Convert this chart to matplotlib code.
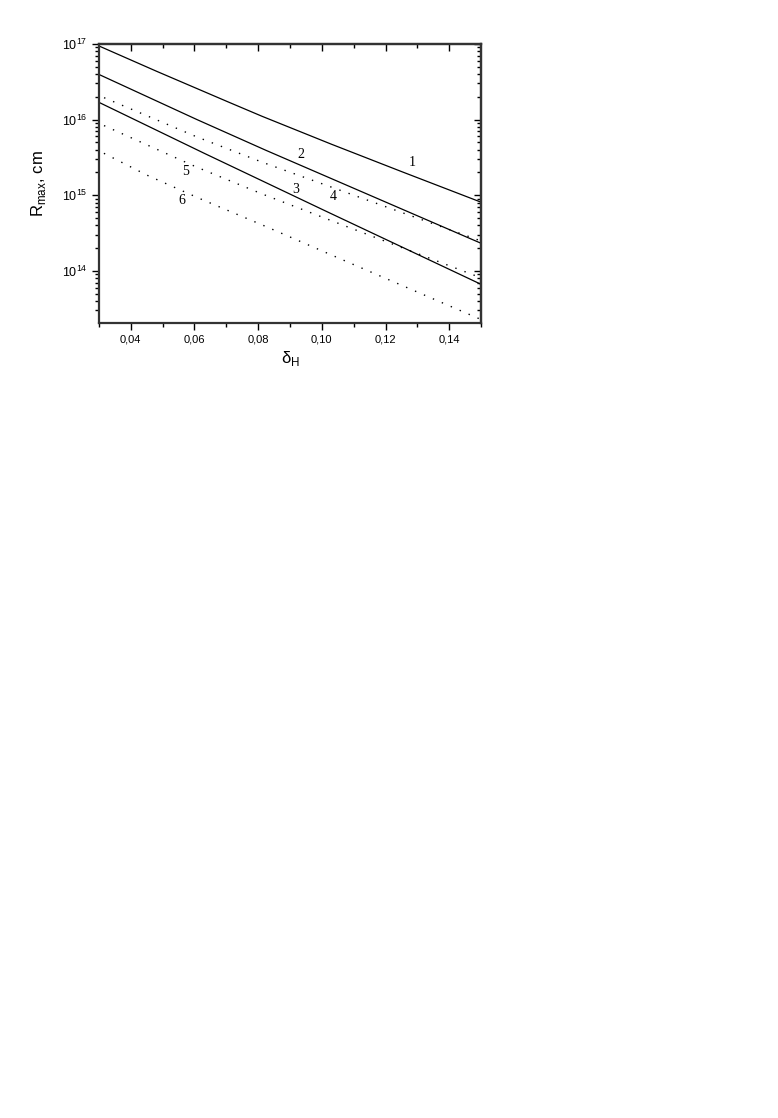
import numpy as np
import matplotlib
matplotlib.use("Agg")
import matplotlib.pyplot as plt
from matplotlib.ticker import FixedLocator, LogLocator, NullFormatter, FuncFormatter

delta = [0.03, 0.045, 0.06, 0.08, 0.10, 0.12, 0.15]

# R_max, cm  (solid: 1-3, dotted: 4-6)
r1 = [9.4e16, 4.95e16, 2.65e16, 1.16e16, 5.3e15, 2.48e15, 8.1e14]
r2 = [3.95e16, 2.02e16, 1.035e16, 4.35e15, 1.88e15, 8.1e14, 2.32e14]
r3 = [1.69e16, 8.35e15, 4.13e15, 1.64e15, 6.53e14, 2.62e14, 6.65e13]
r4 = [2.08e16, 1.13e16, 6.07e15, 2.86e15, 1.42e15, 7.07e14, 2.49e14]
r5 = [8.93e15, 4.66e15, 2.42e15, 1.09e15, 5.15e14, 2.46e14, 8.1e13]
r6 = [3.87e15, 1.85e15, 9.67e14, 4.28e14, 1.84e14, 7.98e13, 2.28e13]

curve_labels = ["1", "2", "3", "4", "5", "6"]
label_x = [0.1283, 0.0935, 0.0919, 0.1035, 0.0573, 0.0560]
label_y = [2.68e15, 3.42e15, 1.18e15, 9.5e14, 2.04e15, 8.4e14]

x_ticks = [0.04, 0.06, 0.08, 0.10, 0.12, 0.14]

plt.rcParams["font.family"] = ["Liberation Sans", "DejaVu Sans"]
plt.rcParams["mathtext.fontset"] = "custom"
plt.rcParams["mathtext.rm"] = "Liberation Sans"

fig = plt.figure(figsize=(7.78, 11.18), dpi=100)
ax = fig.add_axes([0.1272, 0.7111, 0.4911, 0.2496])

# draw through the read points, interpolated in log space
xs = np.linspace(0.03, 0.15, 200)
for r in [r1, r2, r3]:
    ax.plot(xs, 10 ** np.interp(xs, delta, np.log10(r)), color="black", lw=0.9)
for r in [r4, r5, r6]:
    ax.plot(xs, 10 ** np.interp(xs, delta, np.log10(r)), color="black",
            lw=1.0, linestyle=(3, (1, 6)))

for t, lx, ly in zip(curve_labels, label_x, label_y):
    ax.text(lx, ly, t, fontsize=10, family="Liberation Serif",
            ha="center", va="center")

ax.set_yscale("log")
ax.set_xlim(0.03, 0.15)
ax.set_ylim(2.05e13, 1e17)

ax.xaxis.set_major_locator(FixedLocator(x_ticks))
ax.xaxis.set_minor_locator(FixedLocator([0.03, 0.05, 0.07, 0.09, 0.11, 0.13, 0.15]))
ax.xaxis.set_major_formatter(FuncFormatter(lambda v, p: f"{v:.2f}".replace(".", ",")))
ax.yaxis.set_major_locator(LogLocator(base=10, numticks=10))
ax.yaxis.set_minor_locator(LogLocator(base=10, subs=np.arange(2, 10), numticks=10))
ax.yaxis.set_minor_formatter(NullFormatter())
ax.yaxis.set_major_formatter(FuncFormatter(
    lambda v, p: r"$10^{%d}$" % round(np.log10(v))))

ax.tick_params(which="both", direction="out", top=False, right=False,
               labelsize=8, width=1.0)
ax.tick_params(axis="y", labelsize=9)
ax.tick_params(which="major", length=5)
ax.tick_params(which="minor", length=3)

# inward ticks on top and right
ax_t = ax.secondary_xaxis("top")
ax_t.xaxis.set_major_locator(FixedLocator(x_ticks))
ax_t.xaxis.set_minor_locator(FixedLocator([0.05, 0.07, 0.09, 0.11, 0.13]))
ax_t.tick_params(which="both", direction="in", labeltop=False, width=1.0)
ax_t.tick_params(which="major", length=5)
ax_t.tick_params(which="minor", length=3)
ax_r = ax.secondary_yaxis("right")
ax_r.yaxis.set_major_locator(LogLocator(base=10, numticks=10))
ax_r.yaxis.set_minor_locator(LogLocator(base=10, subs=np.arange(2, 10), numticks=10))
ax_r.tick_params(which="both", direction="in", labelright=False, width=1.0)
ax_r.tick_params(which="major", length=5)
ax_r.tick_params(which="minor", length=3)

for a in (ax, ax_t, ax_r):
    for s in a.spines.values():
        s.set_linewidth(1.6)
        s.set_color("#333333")

ax.set_xlabel(r"δ$_{\mathrm{H}}$", fontsize=12, labelpad=3)
ax.set_ylabel(r"R$_{\mathrm{max}}$, cm", fontsize=12, labelpad=10)

fig.savefig("out.png", dpi=100)
